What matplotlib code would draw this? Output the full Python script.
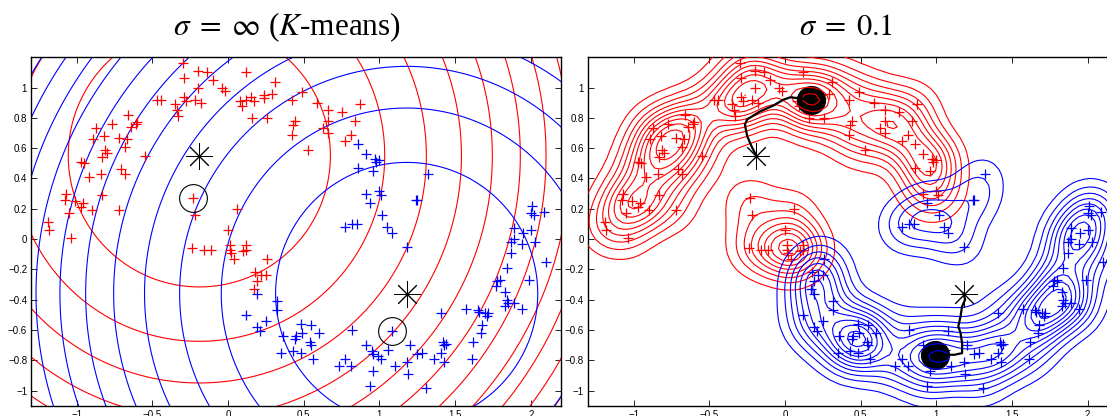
import numpy as np
import matplotlib
matplotlib.use('Agg')
import matplotlib.pyplot as plt

# two-moons data, split as K-means colours them (left)
red_x = [-0.30, -0.29, -0.20, -0.14, -0.10, -0.20, -0.04, -0.02, 0.12, 0.31,
         -0.29, -0.28, -0.22, -0.18, -0.47, -0.44, -0.35, -0.34, -0.33, 0.08,
         0.12, 0.15, 0.17, 0.09, 0.24, 0.29, 0.24, 0.16, 0.26, 0.42,
         0.49, 0.59, 0.44, 0.43, 0.42, 0.53, 0.66, 0.75, 0.87, 0.66,
         0.84, 0.63, 0.66, 0.81, 0.77, -0.66, -0.60, -0.61, -0.87, -0.77,
         -0.82, -0.89, -0.72, -0.67, -0.68, -0.64, -0.81, -0.80, -0.83, -0.55,
         -0.97, -0.95, -0.71, -0.68, -0.92, -0.84, -0.83, -1.07, -1.08, -1.01,
         -0.96, -0.97, -1.05, -0.90, -0.72, -1.19, -1.18, -1.04, -0.23, -0.22,
         0.06, 0.00, -0.24, -0.16, -0.11, 0.01, 0.01, 0.02, 0.04, 0.10,
         0.12, 0.12, 0.26, 0.18, 0.22, 0.25, 0.19, 0.17]
red_y = [1.16, 1.06, 1.11, 1.10, 1.05, 1.00, 1.00, 0.98, 1.10, 1.04,
         0.94, 0.91, 0.92, 0.90, 0.92, 0.92, 0.89, 0.85, 0.81, 0.91,
         0.92, 0.94, 0.91, 0.88, 0.95, 0.96, 0.93, 0.80, 0.80, 0.92,
         0.97, 0.90, 0.78, 0.75, 0.69, 0.59, 0.85, 0.84, 0.89, 0.78,
         0.78, 0.73, 0.70, 0.69, 0.65, 0.82, 0.77, 0.76, 0.73, 0.76,
         0.68, 0.66, 0.67, 0.66, 0.61, 0.74, 0.59, 0.57, 0.54, 0.55,
         0.51, 0.50, 0.46, 0.43, 0.41, 0.43, 0.29, 0.30, 0.26, 0.25,
         0.24, 0.21, 0.17, 0.19, 0.19, 0.11, 0.06, 0.01, 0.27, 0.16,
         0.20, 0.06, -0.06, -0.07, -0.07, -0.04, -0.07, -0.09, -0.13, -0.08,
         -0.04, -0.07, -0.13, -0.22, -0.24, -0.24, -0.28, -0.33]

blue_x = [0.86, 0.91, 0.97, 0.98, 1.00, 0.86, 0.96, 1.32, 1.00, 1.01,
          0.91, 0.94, 1.24, 1.25, 1.02, 0.77, 0.82, 0.85, 1.05, 1.08,
          1.18, 0.19, 0.32, 0.32, 0.12, 0.19, 0.21, 0.25, 0.36, 0.35,
          0.43, 0.48, 0.48, 0.45, 0.49, 0.44, 0.55, 0.60, 0.54, 0.55,
          0.56, 0.77, 0.73, 0.81, 0.82, 1.08, 0.91, 0.95, 0.96, 0.99,
          1.01, 1.06, 0.96, 0.94, 1.10, 1.18, 1.19, 1.20, 1.25, 1.28,
          1.31, 1.36, 1.41, 1.42, 1.43, 1.44, 1.41, 1.43, 1.57, 1.61,
          1.62, 1.65, 1.66, 1.70, 1.72, 1.67, 1.68, 1.71, 1.78, 1.77,
          1.80, 1.83, 1.84, 1.84, 1.83, 1.85, 1.89, 1.94, 1.87, 1.87,
          1.89, 1.89, 1.95, 1.94, 2.00, 2.00, 2.01, 2.02, 2.09, 2.03,
          2.10, 1.99]
blue_y = [0.63, 0.56, 0.53, 0.51, 0.52, 0.47, 0.45, 0.43, 0.32, 0.29,
          0.30, 0.24, 0.26, 0.26, 0.16, 0.08, 0.10, 0.10, 0.08, 0.04,
          -0.05, -0.36, -0.41, -0.47, -0.50, -0.58, -0.61, -0.54, -0.64, -0.75,
          -0.74, -0.75, -0.56, -0.64, -0.62, -0.66, -0.57, -0.62, -0.68, -0.70,
          -0.79, -0.79, -0.84, -0.84, -0.60, -0.61, -0.70, -0.74, -0.76, -0.77,
          -0.79, -0.73, -0.87, -0.97, -0.84, -0.81, -0.89, -0.70, -0.76, -0.75,
          -0.98, -0.79, -0.49, -0.68, -0.70, -0.69, -0.75, -0.81, -0.46, -0.79,
          -0.68, -0.47, -0.48, -0.49, -0.49, -0.62, -0.57, -0.51, -0.28, -0.31,
          -0.27, -0.35, -0.19, -0.40, -0.44, -0.42, -0.42, -0.46, -0.09, -0.02,
          0.00, 0.07, 0.04, -0.03, 0.06, 0.17, 0.22, 0.16, 0.18, -0.02,
          -0.15, -0.27]

# points that swap colour in the sigma = 0.1 panel
red_to_blue = [92, 93, 94, 95, 96, 97]
blue_to_red = [0, 1, 2, 3, 4, 5, 6, 8, 9, 10]

# starting points (stars) and where they end up
start_x = [-0.19, 1.18]
start_y = [0.55, -0.36]
kmeans_end_x = [-0.23, 1.08]
kmeans_end_y = [0.27, -0.61]
mode_x = [0.17, 0.99]
mode_y = [0.92, -0.764]

# paths of the centres for sigma = 0.1
path_red_x = [-0.19, -0.22, -0.25, -0.265, -0.25, -0.17, -0.08, -0.01, 0.035, 0.13, 0.17]
path_red_y = [0.55, 0.61, 0.68, 0.755, 0.79, 0.84, 0.88, 0.92, 0.936, 0.925, 0.92]
path_blue_x = [1.18, 1.19, 1.17, 1.16, 1.145, 1.16, 1.17, 1.17, 1.12, 1.05, 0.99]
path_blue_y = [-0.36, -0.40, -0.445, -0.51, -0.577, -0.62, -0.687, -0.753, -0.764, -0.764, -0.764]

# radii of the K-means circles around each star
kmeans_radii = [0.866, 1.225, 1.5, 1.732, 1.936, 2.121, 2.291, 2.449, 2.598, 2.739, 2.872, 3.0]
bw = 0.125  # kernel width used for the drawn density contours

plt.rcParams['font.family'] = ['Liberation Sans', 'DejaVu Sans']
plt.rcParams['mathtext.fontset'] = 'stix'

# right panel clusters
keep_red = [i for i in range(len(red_x)) if i not in red_to_blue]
keep_blue = [i for i in range(len(blue_x)) if i not in blue_to_red]
red2_x = [red_x[i] for i in keep_red] + [blue_x[i] for i in blue_to_red]
red2_y = [red_y[i] for i in keep_red] + [blue_y[i] for i in blue_to_red]
blue2_x = [red_x[i] for i in red_to_blue] + [blue_x[i] for i in keep_blue]
blue2_y = [red_y[i] for i in red_to_blue] + [blue_y[i] for i in keep_blue]

fig = plt.figure(figsize=(11.07, 4.16), dpi=100)
ax1 = fig.add_axes([0.0283, 0.0248, 0.4785, 0.8375])
ax2 = fig.add_axes([0.5314, 0.0248, 0.4785, 0.8375])

gx, gy = np.meshgrid(np.arange(-1.35, 2.26, 0.01), np.arange(-1.15, 1.26, 0.01))
cols = ['red', 'blue']

# left: K-means (sigma = inf), circles around each centre
for cx, cy, c in zip(start_x, start_y, cols):
    d2 = (gx - cx)**2 + (gy - cy)**2
    ax1.contour(gx, gy, d2, levels=np.square(kmeans_radii), colors=c, linewidths=0.8)
ax1.plot(red_x, red_y, '+', color='red', ms=6.5, mew=0.9, zorder=3)
ax1.plot(blue_x, blue_y, '+', color='blue', ms=6.5, mew=0.9, zorder=3)
ax1.plot(kmeans_end_x, kmeans_end_y, 'o', mfc='none', mec='black', ms=20, mew=0.8, zorder=5)

# right: kernel density of each cluster
kx, ky = np.meshgrid(np.arange(-1.35, 2.26, 0.035), np.arange(-1.15, 1.26, 0.035))
ax2.plot(red2_x, red2_y, '+', color='red', ms=6.5, mew=0.9, zorder=2)
ax2.plot(blue2_x, blue2_y, '+', color='blue', ms=6.5, mew=0.9, zorder=2)
ax2.plot(mode_x, mode_y, 'o', color='black', ms=20, zorder=2.5)
for px, py, c in zip([red2_x, blue2_x], [red2_y, blue2_y], cols):
    z = np.zeros_like(kx)
    for a, b in zip(px, py):
        z += np.exp(-((kx - a)**2 + (ky - b)**2) / (2 * bw**2))
    lev = np.linspace(0, z.max(), 12)[1:-1]
    ax2.contour(kx, ky, z, levels=lev, colors=c, linewidths=0.8, zorder=3)
ax2.plot(path_red_x, path_red_y, color='black', lw=1.6, zorder=4)
ax2.plot(path_blue_x, path_blue_y, color='black', lw=1.6, zorder=4)

for ax in (ax1, ax2):
    ax.plot(start_x, start_y, ls='none', marker=(8, 2, 0), color='black',
            ms=19, mew=0.7, zorder=5)
    ax.set_xlim(-1.3, 2.2)
    ax.set_ylim(-1.1, 1.2)
    ax.set_xticks([-1, -0.5, 0, 0.5, 1, 1.5, 2])
    ax.set_yticks([-1, -0.8, -0.6, -0.4, -0.2, 0, 0.2, 0.4, 0.6, 0.8, 1])
    ax.xaxis.set_major_formatter(lambda v, p: ('%g' % v).replace('-', '\u2212'))
    ax.yaxis.set_major_formatter(lambda v, p: ('%g' % v).replace('-', '\u2212'))
    ax.tick_params(direction='in', top=True, right=True, length=4, width=0.6,
                   labelsize=7, pad=3, colors='black')
    for s in ax.spines.values():
        s.set_linewidth(1.0)

fig.text(287 / 1107, 0.935, r'$\sigma\;=\;\infty$ ($K$-means)', ha='center', va='center',
         fontsize=22.5, family='Liberation Serif')
fig.text(846 / 1107, 0.935, r'$\sigma\;=\;0.1$', ha='center', va='center',
         fontsize=22, family='Liberation Serif')

fig.savefig('out.png', dpi=100)
